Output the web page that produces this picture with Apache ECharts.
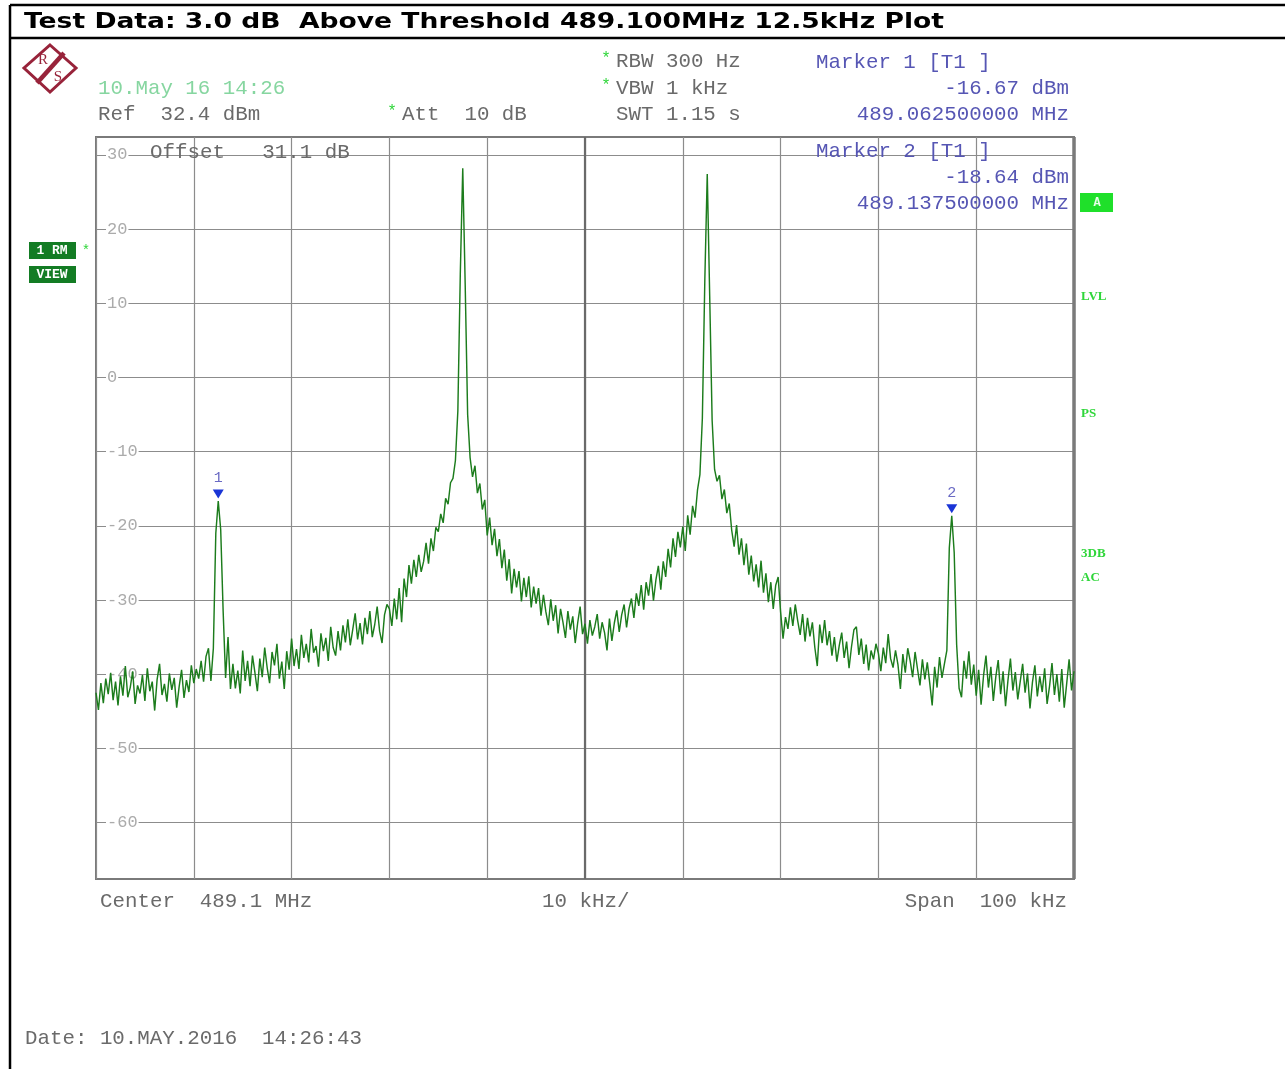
<!DOCTYPE html>
<html><head><meta charset="utf-8">
<script src="https://cdn.jsdelivr.net/npm/echarts@6/dist/echarts.min.js"></script>
<style>html,body{margin:0;padding:0;background:#fff;}#c{width:1285px;height:1069px;}</style>
</head><body><div id="c"></div>
<script>
// ---------- data ----------
const titleText = 'Test Data: 3.0 dB  Above Threshold 489.100MHz 12.5kHz Plot';
const spanStartKHz = 0;      // 489.05 MHz
const spanEndKHz = 100;      // 489.15 MHz
const freqStepKHz = 0.25;
const refLevelDbm = 32.4;
const bottomLevelDbm = -67.6;
const gridLevels = [30, 20, 10, 0, -10, -20, -30, -40, -50, -60];
const gridLabels = ['30', '20', '10', '0', '-10', '-20', '-30', '-40', '-50', '-60'];
const markerNames = ['1', '2'];
const markerFreqKHz = [12.5, 87.5];
const markerLevelDbm = [-16.67, -18.64];
const levelsDbm = [
  -42.5,-44.8,-41.2,-43.9,-40.6,-42.7,-39.8,-43.5,-41.0,-44.2,-40.3,-42.9,-38.9,-43.1,-41.8,-39.6,-44.0,-41.5,-42.6,-40.1,
  -43.6,-39.2,-42.3,-41.0,-44.9,-40.7,-38.6,-42.8,-41.3,-43.7,-39.9,-42.1,-40.5,-44.5,-41.7,-39.4,-43.2,-40.8,-42.4,-38.8,
  -41.2,-39.3,-40.6,-38.2,-41.0,-37.6,-36.5,-40.9,-36.5,-21.0,-16.67,-20.5,-31.5,-40.5,-35.0,-42.0,-38.6,-41.9,-39.5,-42.6,
  -36.8,-40.9,-38.2,-41.6,-37.5,-39.8,-42.3,-37.9,-40.4,-36.4,-39.1,-41.2,-37.0,-38.8,-35.9,-40.6,-38.3,-42.0,-36.9,-39.4,
  -35.2,-38.9,-36.6,-39.3,-34.7,-37.8,-35.9,-38.4,-33.9,-37.1,-36.2,-39.0,-34.5,-36.9,-35.1,-38.2,-33.6,-36.4,-37.5,-34.2,
  -36.8,-33.4,-35.7,-32.6,-36.1,-34.0,-31.8,-35.3,-33.1,-36.0,-32.4,-34.6,-31.5,-35.0,-33.3,-30.9,-34.2,-35.8,-32.0,-30.6,
  -31.2,-33.5,-29.8,-32.6,-28.4,-33.0,-27.1,-29.6,-25.3,-27.8,-24.6,-26.9,-23.9,-26.2,-24.8,-22.3,-25.1,-21.7,-23.4,-20.2,
  -20.8,-18.4,-19.6,-16.3,-17.1,-14.2,-13.6,-11.2,-4.5,14.0,28.2,12.5,-5.0,-10.8,-13.4,-11.9,-15.6,-14.3,-17.8,-16.5,
  -21.3,-18.9,-22.6,-20.4,-24.1,-21.8,-25.7,-23.2,-27.4,-24.5,-29.1,-25.8,-28.3,-26.1,-30.2,-27.0,-29.6,-26.8,-31.0,-28.2,
  -30.5,-28.4,-32.1,-29.3,-31.6,-33.4,-29.9,-32.8,-30.7,-34.5,-31.2,-33.0,-35.1,-31.5,-34.0,-32.2,-35.8,-33.1,-30.9,-34.6,
  -33.2,-35.9,-32.7,-34.8,-33.6,-31.9,-35.2,-33.0,-34.4,-36.8,-32.5,-35.5,-33.1,-31.4,-34.3,-32.0,-30.6,-33.7,-31.2,-29.8,
  -32.4,-29.1,-30.8,-28.0,-31.3,-27.6,-29.4,-26.5,-30.1,-27.3,-25.4,-28.6,-24.8,-26.9,-23.1,-25.6,-21.7,-24.2,-20.8,-22.9,
  -20.1,-23.4,-18.6,-21.2,-17.3,-18.9,-15.2,-13.1,-5.5,13.0,27.4,11.0,-5.8,-12.4,-14.0,-13.2,-16.4,-15.1,-18.3,-17.0,
  -20.6,-22.8,-19.9,-23.9,-21.7,-25.3,-22.4,-26.6,-24.0,-27.5,-25.2,-28.3,-24.7,-29.0,-26.4,-30.3,-27.6,-31.2,-28.0,-26.9,
  -31.6,-35.2,-32.3,-33.9,-31.0,-33.5,-30.6,-32.8,-34.7,-31.9,-35.6,-32.4,-34.9,-33.0,-36.4,-38.9,-33.3,-35.8,-32.7,-36.1,
  -34.2,-37.5,-35.0,-38.3,-36.1,-34.4,-37.8,-35.6,-39.2,-36.3,-34.0,-33.6,-37.4,-35.2,-38.6,-36.0,-39.5,-36.8,-38.0,-35.9,
  -37.2,-39.6,-36.4,-38.5,-34.6,-37.9,-39.1,-36.8,-38.7,-42.0,-37.3,-39.8,-36.5,-38.2,-40.4,-37.0,-39.3,-41.5,-38.0,-40.7,
  -38.4,-41.2,-44.2,-39.0,-41.8,-37.7,-40.5,-38.6,-36.8,-23.0,-18.64,-23.6,-36.0,-41.9,-43.1,-38.2,-40.6,-36.9,-41.4,-38.7,
  -42.9,-39.4,-44.1,-40.2,-37.5,-41.8,-39.0,-43.6,-40.4,-38.1,-42.7,-39.6,-44.3,-40.8,-37.9,-42.2,-39.7,-43.4,-41.0,-38.6,
  -42.5,-39.9,-44.6,-41.1,-38.8,-43.0,-40.3,-42.4,-39.2,-44.0,-41.6,-38.5,-42.8,-40.0,-43.7,-39.3,-44.5,-41.3,-38.0,-42.2,
  -39.6
];

// ---------- chart ----------
const MONO = '"Liberation Mono", "DejaVu Sans Mono", monospace';
const traceData = levelsDbm.map((v, i) => [spanStartKHz + i * freqStepKHz, v]);

const chart = echarts.init(document.getElementById('c'), null, {renderer: 'canvas'});

const meas = document.createElement('canvas').getContext('2d');
meas.font = 'bold 21px "DejaVu Sans"';
const titleScale = 920 / meas.measureText(titleText).width;

function txt(x, y, text, fill, font, align) {
  return {type: 'text', x: x, y: y, z: 50, style: {text: text, fill: fill, font: font || ('20.8px ' + MONO),
    textAlign: align || 'left', textVerticalAlign: 'middle'}};
}
const GRAY = '#6a6a6a', BLUE = '#5656b4', LG = '#2fd63a';

const graphics = [
  {type: 'line', shape: {x1: 10, y1: 5, x2: 1285, y2: 5}, style: {stroke: '#000', lineWidth: 2.5}},
  {type: 'line', shape: {x1: 10, y1: 38, x2: 1285, y2: 38}, style: {stroke: '#000', lineWidth: 2.5}},
  {type: 'line', shape: {x1: 10, y1: 5, x2: 10, y2: 1069}, style: {stroke: '#000', lineWidth: 2.5}},
  {type: 'text', x: 24, y: 23, scaleX: titleScale, z: 50,
    style: {text: titleText, fill: '#000', font: 'bold 21px "DejaVu Sans"', textAlign: 'left', textVerticalAlign: 'middle'}},
  // R&S logo
  {type: 'polygon', shape: {points: [[50, 45], [76, 68], [50, 92], [24, 68]]}, style: {fill: 'none', stroke: '#98233a', lineWidth: 3}},
  {type: 'line', shape: {x1: 37, y1: 83, x2: 64, y2: 53}, style: {stroke: '#98233a', lineWidth: 4.5}},
  txt(43, 60, 'R', '#98233a', '15px "Liberation Serif"', 'center'),
  txt(58, 77, 'S', '#98233a', '15px "Liberation Serif"', 'center'),
  // header info
  txt(98, 88, '10.May 16 14:26', '#86d6a0'),
  txt(98, 114, 'Ref  32.4 dBm', GRAY),
  txt(392, 112, '*', LG, '16px ' + MONO, 'center'),
  txt(402, 114, 'Att  10 dB', GRAY),
  txt(606, 59, '*', LG, '16px ' + MONO, 'center'),
  txt(616, 61, 'RBW 300 Hz', GRAY),
  txt(606, 86, '*', LG, '16px ' + MONO, 'center'),
  txt(616, 88, 'VBW 1 kHz', GRAY),
  txt(616, 114, 'SWT 1.15 s', GRAY),
  txt(816, 62, 'Marker 1 [T1 ]', BLUE),
  txt(1069, 88, '-16.67 dBm', BLUE, null, 'right'),
  txt(1069, 114, '489.062500000 MHz', BLUE, null, 'right'),
  txt(816, 151, 'Marker 2 [T1 ]', BLUE),
  txt(1069, 177, '-18.64 dBm', BLUE, null, 'right'),
  txt(1069, 203, '489.137500000 MHz', BLUE, null, 'right'),
  txt(150, 152, 'Offset   31.1 dB', GRAY),
  // left status boxes
  {type: 'rect', shape: {x: 29, y: 242, width: 47, height: 17}, style: {fill: '#137c24'}},
  txt(52, 251, '1 RM', '#fff', 'bold 13px ' + MONO, 'center'),
  {type: 'rect', shape: {x: 29, y: 266, width: 47, height: 17}, style: {fill: '#137c24'}},
  txt(52, 275, 'VIEW', '#fff', 'bold 13px ' + MONO, 'center'),
  txt(86, 251, '*', LG, '14px ' + MONO, 'center'),
  // right side labels
  {type: 'rect', shape: {x: 1080, y: 193, width: 33, height: 19}, style: {fill: '#1fe02a'}},
  txt(1097, 203, 'A', '#e8ffe8', 'bold 12px ' + MONO, 'center'),
  txt(1081, 297, 'LVL', LG, 'bold 13px "Liberation Serif"'),
  txt(1081, 414, 'PS', LG, 'bold 13px "Liberation Serif"'),
  txt(1081, 554, '3DB', LG, 'bold 13px "Liberation Serif"'),
  txt(1081, 578, 'AC', LG, 'bold 13px "Liberation Serif"'),
  // bottom
  txt(100, 901, 'Center  489.1 MHz', GRAY),
  txt(542, 901, '10 kHz/', GRAY),
  txt(1067, 901, 'Span  100 kHz', GRAY, null, 'right'),
  txt(25, 1038, 'Date: 10.MAY.2016  14:26:43', GRAY)
];

const option = {
  animation: false,
  backgroundColor: '#fff',
  grid: {left: 96, top: 137, width: 978, height: 742, containLabel: false, outerBoundsMode: 'none',
    show: true, borderColor: '#7a7a7a', borderWidth: 2, backgroundColor: 'transparent'},
  xAxis: {type: 'value', min: spanStartKHz, max: spanEndKHz, interval: 10,
    axisLabel: {show: false}, axisTick: {show: false}, axisLine: {show: false},
    splitLine: {show: true, lineStyle: {color: '#8c8c8c', width: 1.2}}},
  yAxis: {type: 'value', min: bottomLevelDbm, max: refLevelDbm,
    axisLabel: {show: false}, axisTick: {show: false}, axisLine: {show: false}, splitLine: {show: false}},
  graphic: graphics,
  series: [
    {
      name: 'grid', type: 'line', data: [], z: 1, silent: true,
      markLine: {
        silent: true, symbol: ['none', 'none'], animation: false,
        lineStyle: {color: '#8c8c8c', width: 1.2, type: 'solid'},
        label: {show: true, position: 'insideStart', distance: [10, 0], color: '#ababab',
          fontFamily: MONO, fontSize: 17, backgroundColor: '#fff', padding: [0, 1]},
        data: gridLevels.map((v, i) => ({yAxis: v, label: {formatter: gridLabels[i]}}))
          .concat([
            {xAxis: 50, lineStyle: {color: '#6a6a6a', width: 2.2}, label: {show: false}},
            {xAxis: spanEndKHz, lineStyle: {color: '#7a7a7a', width: 3.5}, label: {show: false}}
          ])
      }
    },
    {
      name: 'Trace 1', type: 'line', data: traceData, z: 5, showSymbol: false, symbol: 'none',
      lineStyle: {color: '#1c7c1c', width: 1.45}, silent: true,
      markPoint: {
        symbol: 'triangle', symbolRotate: 180, symbolSize: [11, 9], symbolOffset: [0, -7],
        itemStyle: {color: '#1a35d6'}, silent: true,
        label: {show: true, position: 'top', distance: 4, color: '#6a6ac4', fontFamily: MONO, fontSize: 15,
          formatter: p => p.name},
        data: markerNames.map((n, i) => ({name: n, coord: [markerFreqKHz[i], markerLevelDbm[i]]}))
      }
    }
  ]
};
chart.setOption(option);
</script></body></html>
